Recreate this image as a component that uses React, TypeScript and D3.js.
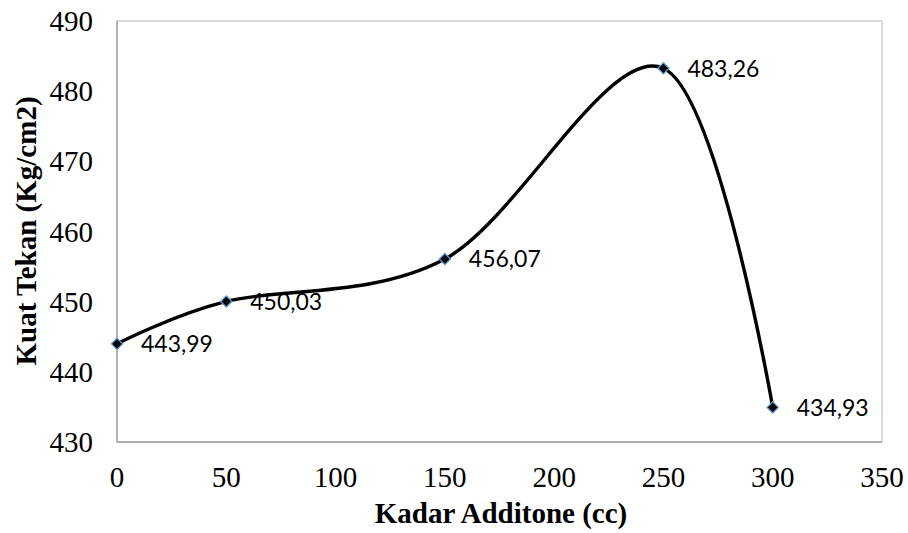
import React, { useEffect, useRef } from 'react'
import * as d3 from 'd3'

// Data
const kadarAdditone = [0, 50, 150, 250, 300]
const kuatTekan = [443.99, 450.03, 456.07, 483.26, 434.93]
const xTicks = [0, 50, 100, 150, 200, 250, 300, 350]
const yTicks = [430, 440, 450, 460, 470, 480, 490]

const WIDTH = 908
const HEIGHT = 533
const SERIF = '"Liberation Serif", "DejaVu Serif", serif'

const App: React.FC = () => {
  const svgRef = useRef<SVGSVGElement>(null)

  useEffect(() => {
    if (!svgRef.current) return
    const svg = d3.select(svgRef.current)
    svg.selectAll('*').remove()

    const margin = { top: 21, right: 26, bottom: 91, left: 117 }
    const w = WIDTH - margin.left - margin.right
    const h = HEIGHT - margin.top - margin.bottom

    const x = d3.scaleLinear().domain([0, 350]).range([0, w])
    const y = d3.scaleLinear().domain([430, 490]).range([h, 0])

    const g = svg.append('g').attr('transform', `translate(${margin.left},${margin.top})`)

    // plot area border
    g.append('rect')
      .attr('x', 0).attr('y', 0)
      .attr('width', w).attr('height', h)
      .attr('fill', 'none')
      .attr('stroke', '#c8c8c8')
      .attr('stroke-width', 1.3)

    // axis lines
    g.append('line').attr('x1', 0).attr('x2', 0).attr('y1', 0).attr('y2', h)
      .attr('stroke', '#a0a0a0').attr('stroke-width', 1.3)
    g.append('line').attr('x1', 0).attr('x2', w).attr('y1', h).attr('y2', h)
      .attr('stroke', '#a0a0a0').attr('stroke-width', 1.3)

    // tick labels
    g.selectAll('.xtick')
      .data(xTicks)
      .enter()
      .append('text')
      .attr('class', 'xtick')
      .attr('x', d => x(d))
      .attr('y', h + 45)
      .attr('text-anchor', 'middle')
      .attr('font-family', SERIF)
      .attr('font-weight', 'normal')
      .attr('font-size', 29)
      .attr('fill', '#000')
      .text(d => String(d))

    g.selectAll('.ytick')
      .data(yTicks)
      .enter()
      .append('text')
      .attr('class', 'ytick')
      .attr('x', -24)
      .attr('y', d => y(d))
      .attr('dy', '0.35em')
      .attr('text-anchor', 'end')
      .attr('font-family', SERIF)
      .attr('font-weight', 'normal')
      .attr('font-size', 29)
      .attr('fill', '#000')
      .text(d => String(d))

    const points = kadarAdditone.map((k, i) => [k, kuatTekan[i]] as [number, number])

    // smoothed line
    const line = d3.line<[number, number]>()
      .x(d => x(d[0]))
      .y(d => y(d[1]))
      .curve(d3.curveCardinal.tension(0))

    g.append('path')
      .datum(points)
      .attr('d', line)
      .attr('fill', 'none')
      .attr('stroke', '#000')
      .attr('stroke-width', 3.4)

    // diamond markers
    const diamond = d3.symbol().type(d3.symbolDiamond2).size(80)
    g.selectAll('.marker')
      .data(points)
      .enter()
      .append('path')
      .attr('class', 'marker')
      .attr('d', diamond)
      .attr('transform', d => `translate(${x(d[0])},${y(d[1])})`)
      .attr('fill', '#000')
      .attr('stroke', '#5b9bd5')
      .attr('stroke-width', 1.3)

    // data labels
    g.selectAll('.label')
      .data(points)
      .enter()
      .append('text')
      .attr('class', 'label')
      .attr('x', d => x(d[0]) + 24)
      .attr('y', d => y(d[1]))
      .attr('dy', '0.36em')
      .attr('font-family', 'Lato, "Open Sans", sans-serif')
      .attr('font-size', 23)
      .attr('fill', '#000')
      .text(d => d[1].toFixed(2).replace('.', ','))

    // axis titles
    svg.append('text')
      .attr('x', 501)
      .attr('y', 523)
      .attr('text-anchor', 'middle')
      .attr('font-family', SERIF)
      .attr('font-size', 29)
      .attr('font-weight', 'bold')
      .text('Kadar Additone (cc)')

    svg.append('text')
      .attr('transform', `translate(36,231) rotate(-90)`)
      .attr('text-anchor', 'middle')
      .attr('font-family', SERIF)
      .attr('font-size', 29)
      .attr('font-weight', 'bold')
      .text('Kuat Tekan (Kg/cm2)')
  }, [])

  return (
    <svg
      ref={svgRef}
      width={WIDTH}
      height={HEIGHT}
      style={{ position: 'absolute', left: 0, top: 0, background: '#fff' }}
    />
  )
}

export default App
